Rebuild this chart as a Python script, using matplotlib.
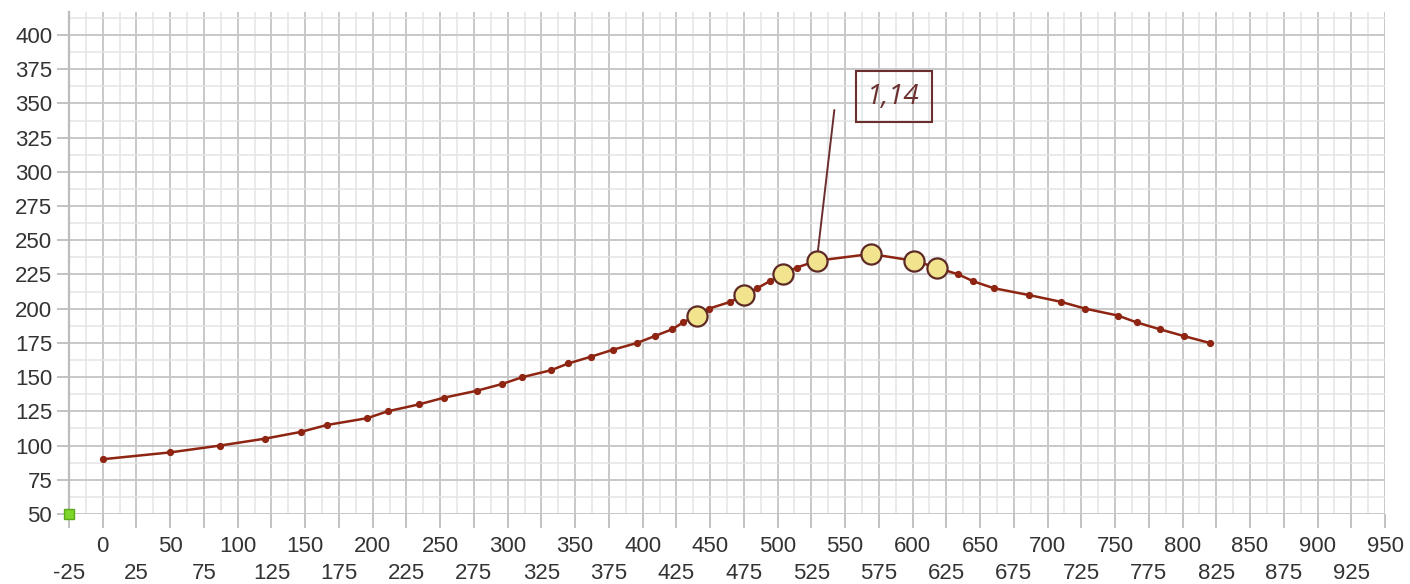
import matplotlib.pyplot as plt
import numpy as np

# curve points
xs = [0, 50, 87, 120, 147, 166, 196, 211, 234, 253, 277, 296, 311, 332, 345,
      362, 378, 396, 409, 422, 430, 440, 449, 465, 475, 485, 494, 504, 514, 529,
      569, 601, 618, 634, 645, 660, 686, 710, 728, 752, 766, 783, 801, 820]
ys = [90, 95, 100, 105, 110, 115, 120, 125, 130, 135, 140, 145, 150, 155, 160,
      165, 170, 175, 180, 185, 190, 195, 200, 205, 210, 215, 220, 225, 230, 235,
      240, 235, 230, 225, 220, 215, 210, 205, 200, 195, 190, 185, 180, 175]

# highlighted points
hx = [440, 475, 504, 529, 569, 601, 618]
hy = [195, 210, 225, 235, 240, 235, 230]

label_text = "1,14"
label_point = (529, 235)
label_pos = (586, 355)
origin_mark = (-25, 50)

x_top_ticks = list(range(0, 951, 50))
x_bottom_ticks = list(range(-25, 951, 50))
y_ticks = list(range(50, 401, 25))

line_col = "#8e2412"
tick_col = "#333333"
plt.rcParams['font.family'] = ['Liberation Sans', 'DejaVu Sans']

fig = plt.figure(figsize=(14.1, 5.84), dpi=100)
ax = fig.add_axes([0.0489, 0.1199, 0.9334, 0.8596])
ax.set_xlim(-25, 950)
ax.set_ylim(50, 416.8)

# grid: strong lines every 25, faint every 12.5
for v in np.arange(-25, 951, 12.5):
    major = v % 25 == 0
    ax.axvline(v, color="#c8c8c8" if major else "#e4e4e4", lw=1.4 if major else 1.1, zorder=0)
for v in np.arange(50, 417, 12.5):
    major = v % 25 == 0
    ax.axhline(v, color="#c8c8c8" if major else "#e4e4e4", lw=1.4 if major else 1.1, zorder=0)

ax.plot(xs, ys, color=line_col, lw=1.8, marker="o", ms=4.2, zorder=3)
ax.plot(hx, hy, ls="none", marker="o", ms=14.5, mfc="#f2e38e",
        mec="#5e2a26", mew=1.6, zorder=4)

ax.plot([label_point[0], 542], [label_point[1], 345], color="#6b2e2e", lw=1.4, zorder=3)
ax.text(label_pos[0], label_pos[1], label_text, fontsize=20, style="italic",
        family=["Open Sans", "DejaVu Sans"], color="#6b3030", ha="center", va="center",
        bbox=dict(boxstyle="square,pad=0.42", fc="none", ec="#6b2e2e", lw=1.5),
        zorder=5)

ax.plot([origin_mark[0]], [origin_mark[1]], marker="s", ms=6.5, mfc="#7fd62a",
        mec="#5ea81c", mew=1, clip_on=False, zorder=6)

ax.set_xticks(x_top_ticks)
ax.set_xticklabels([str(v) for v in x_top_ticks])
ax.set_xticks(x_bottom_ticks, minor=True)
ax.set_xticklabels([str(v) for v in x_bottom_ticks], minor=True)
ax.set_yticks(y_ticks)
ax.set_yticklabels([str(v) for v in y_ticks])

ax.tick_params(axis="x", which="both", length=10, width=1.3, color="#bdbdbd",
               labelsize=16, labelcolor=tick_col)
ax.tick_params(axis="x", which="major", pad=6)
ax.tick_params(axis="x", which="minor", pad=25)
ax.tick_params(axis="y", which="major", length=9, width=1.3, color="#bdbdbd",
               labelsize=16, labelcolor=tick_col, pad=3)

for s in ["top", "right", "bottom"]:
    ax.spines[s].set_visible(False)
ax.spines["left"].set_color("#bdbdbd")
ax.spines["left"].set_linewidth(1.6)

fig.savefig("out.png", dpi=100)
